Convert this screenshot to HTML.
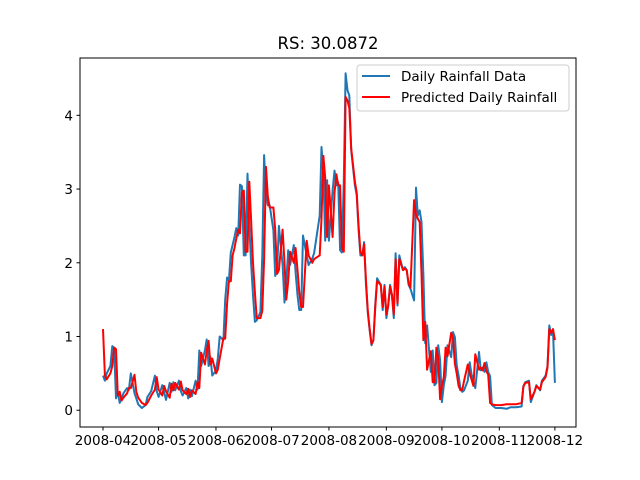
<!DOCTYPE html>
<html><head><meta charset="utf-8"><style>
body{margin:0;background:#fff}
svg{display:block;font-family:"DejaVu Sans","Liberation Sans",sans-serif}
</style></head><body>
<svg id="c" width="640" height="480"></svg>
<script>
const days=[0,1,2,4,5,6,7,8,9,10,11,13,14,15,17,18,19,21,23,24,26,28,29,30,32,33,34,36,37,38,39,41,42,43,45,46,47,48,50,51,52,53,55,56,57,58,59,61,62,63,65,66,67,68,69,70,71,72,73,74,75,76,77,78,79,80,81,82,83,85,86,87,88,89,90,92,93,94,95,97,98,99,100,101,103,104,105,106,107,108,110,111,113,114,117,118,119,120,121,122,124,125,126,127,128,129,130,131,132,133,134,136,137,138,139,140,141,142,143,144,145,146,147,148,150,151,152,153,154,155,156,157,158,159,160,162,163,164,165,166,168,169,170,171,172,173,174,175,177,178,179,180,181,182,183,184,185,186,188,189,190,191,192,193,194,195,197,198,199,200,201,203,204,205,206,207,208,209,210,212,215,218,220,223,226,227,228,230,231,233,234,236,237,239,240,241,242,243,244];
const actual=[0.47,0.4,0.5,0.6,0.87,0.85,0.16,0.25,0.1,0.16,0.23,0.3,0.28,0.5,0.23,0.16,0.08,0.03,0.07,0.18,0.26,0.47,0.26,0.18,0.34,0.25,0.14,0.37,0.25,0.38,0.27,0.4,0.26,0.2,0.3,0.16,0.28,0.19,0.4,0.28,0.81,0.6,0.81,0.96,0.6,0.72,0.47,0.54,0.7,1.0,0.95,1.5,1.8,1.76,2.14,2.24,2.35,2.47,2.37,3.06,3.04,2.1,2.1,3.21,2.5,1.97,1.56,1.2,1.22,1.33,2.1,3.46,2.92,2.78,2.78,2.44,1.82,1.9,2.5,1.97,1.46,1.74,2.17,1.97,2.24,1.87,1.56,1.36,1.36,2.37,2.1,1.97,2.06,2.13,2.64,3.57,3.19,2.3,3.12,2.3,2.98,3.25,3.05,3.09,2.17,2.14,3.12,4.57,4.34,4.27,3.53,3.05,2.92,2.44,2.1,2.1,2.28,1.7,1.32,1.08,0.88,0.95,1.42,1.79,1.7,1.36,1.7,1.25,1.42,1.7,1.56,1.25,2.13,1.42,2.1,1.9,1.94,1.9,1.7,1.65,1.49,3.02,2.64,2.71,2.55,1.83,0.91,1.15,0.52,0.81,0.34,0.37,0.88,0.68,0.11,0.34,0.47,0.88,0.72,1.06,0.99,0.61,0.47,0.3,0.25,0.27,0.4,0.65,0.49,0.4,0.3,0.79,0.54,0.58,0.52,0.65,0.52,0.46,0.07,0.03,0.03,0.02,0.04,0.04,0.05,0.33,0.38,0.4,0.11,0.25,0.34,0.27,0.4,0.47,0.6,1.15,1.02,1.08,0.37];
const predicted=[1.1,0.47,0.42,0.5,0.6,0.85,0.83,0.2,0.25,0.13,0.17,0.23,0.3,0.3,0.48,0.25,0.17,0.1,0.07,0.1,0.2,0.28,0.45,0.28,0.2,0.33,0.26,0.17,0.36,0.27,0.37,0.28,0.39,0.27,0.22,0.29,0.18,0.27,0.22,0.38,0.3,0.78,0.62,0.8,0.94,0.62,0.7,0.5,0.55,0.7,0.98,0.97,1.45,1.75,1.75,2.1,2.2,2.33,2.45,2.4,2.95,2.98,2.15,2.15,3.1,2.55,2.0,1.6,1.25,1.25,1.35,2.05,3.3,2.9,2.75,2.75,2.45,1.85,1.9,2.45,2.0,1.5,1.75,2.15,2.0,2.2,1.9,1.6,1.4,1.4,2.3,2.1,2.0,2.05,2.1,2.6,3.45,3.15,2.35,3.05,2.35,2.95,3.2,3.05,3.05,2.2,2.15,4.25,4.2,4.1,3.55,3.1,2.95,2.5,2.15,2.1,2.25,1.75,1.35,1.1,0.9,0.95,1.38,1.75,1.7,1.4,1.68,1.3,1.42,1.68,1.57,1.3,2.05,1.45,2.05,1.9,1.92,1.9,1.72,1.66,2.85,2.65,2.6,2.55,1.85,0.95,1.2,0.55,0.8,0.38,0.38,0.85,0.7,0.15,0.33,0.45,0.85,0.73,1.05,0.98,0.63,0.5,0.33,0.27,0.28,0.4,0.62,0.5,0.42,0.33,0.76,0.55,0.58,0.54,0.64,0.53,0.48,0.1,0.08,0.07,0.07,0.08,0.08,0.08,0.1,0.32,0.37,0.38,0.15,0.25,0.33,0.28,0.38,0.45,0.58,1.1,1.05,1.1,0.95];
const tickDays=[0,30,61,91,122,153,183,214,244];
const tickLabels=["2008-04","2008-05","2008-06","2008-07","2008-08","2008-09","2008-10","2008-11","2008-12"];
const yTicks=[0,1,2,3,4];

const NS="http://www.w3.org/2000/svg";
const svg=document.getElementById('c');
const L=80,R=576,T=58,B=427;
const xMin=-12.42,xMax=255.4,yMin=-0.2275,yMax=4.7775;
const sx=d=>L+(d-xMin)/(xMax-xMin)*(R-L);
const sy=v=>B-(v-yMin)/(yMax-yMin)*(B-T);
function mk(tag,attrs,parent){const e=document.createElementNS(NS,tag);for(const k in attrs)e.setAttribute(k,attrs[k]);(parent||svg).appendChild(e);return e;}

const title=mk('text',{x:328,y:49,'text-anchor':'middle','font-size':16.5,fill:'#000'});
title.textContent='RS: 30.0872';



function line(vals,color,name){
  const p=days.map((d,i)=>(i?'L':'M')+sx(d).toFixed(1)+','+sy(vals[i]).toFixed(1)).join('');
  const e=mk('path',{d:p,fill:'none',stroke:color,'stroke-width':2,'stroke-linejoin':'round'});
  
  
}
line(actual,'#1f77b4','actual-rainfall-line');
line(predicted,'#ff0000','predicted-rainfall-line');

const frame=mk('rect',{x:L,y:T,width:R-L,height:B-T,fill:'none',stroke:'#000','stroke-width':1});



tickDays.forEach((d,i)=>{
  const x=sx(d);
  const t=mk('line',{x1:x,x2:x,y1:B,y2:B+3.5,stroke:'#000'});
  
  
  const l=mk('text',{x:x,y:B+18,'text-anchor':'middle','font-size':13.5});
  l.textContent=tickLabels[i];
  
  
});
yTicks.forEach(v=>{
  const y=sy(v);
  const t=mk('line',{x1:L-3.5,x2:L,y1:y,y2:y,stroke:'#000'});
  
  
  const l=mk('text',{x:L-7,y:y+5,'text-anchor':'end','font-size':13.5});
  l.textContent=v;
  
  
});

const lg=mk('g',{});


mk('rect',{x:357,y:65,width:212,height:46,rx:3,fill:'#fff',stroke:'#ccc','fill-opacity':0.8},lg);
[['Daily Rainfall Data','#1f77b4',76],['Predicted Daily Rainfall','#ff0000',97]].forEach(([txt,c,y])=>{
  const l=mk('line',{x1:362,x2:390,y1:y,y2:y,stroke:c,'stroke-width':2},lg);
  
  
  const t=mk('text',{x:401,y:y+5,'font-size':13.5},lg);
  t.textContent=txt;
  
  
});
</script>
</body></html>
